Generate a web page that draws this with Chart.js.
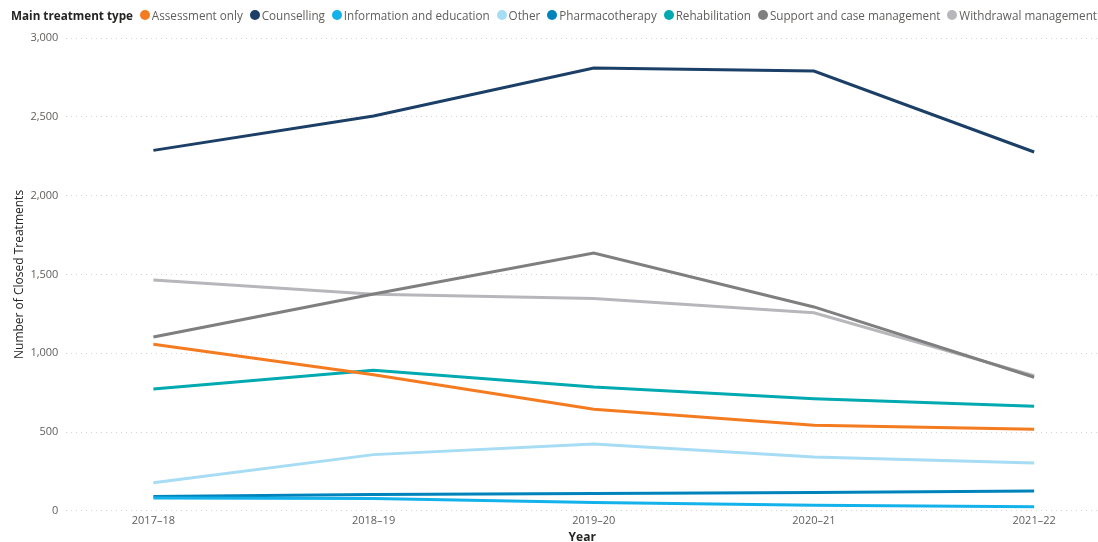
<!DOCTYPE html>
<html>
<head>
<meta charset="utf-8">
<script src="https://cdn.jsdelivr.net/npm/chart.js@4.4.0/dist/chart.umd.min.js"></script>
<style>
  html, body { margin: 0; padding: 0; background: #fff; }
  #wrap { position: relative; width: 1098px; height: 542px; overflow: hidden; }
  #legend {
    position: absolute; left: 11px; top: 7px; width: 1086px;
    display: flex; align-items: center; justify-content: space-between; white-space: nowrap;
    font-family: "Segoe UI", "Open Sans", sans-serif; font-size: 11.7px; color: #605E5C;
  }
  #legend .title { font-weight: bold; color: #252423; }
  #legend .item { display: flex; align-items: center; }
  #legend .dot { width: 10px; height: 10px; border-radius: 50%; margin-right: 2px; }
  canvas { position: absolute; left: 0; top: 0; }
</style>
</head>
<body>
<div id="wrap">
  <canvas id="chart" width="1098" height="542"></canvas>
  <div id="legend"></div>
</div>
<script>
// Datos del gráfico
const years = ['2017–18', '2018–19', '2019–20', '2020–21', '2021–22'];
const seriesNames = ['Assessment only', 'Counselling', 'Information and education', 'Other',
    'Pharmacotherapy', 'Rehabilitation', 'Support and case management', 'Withdrawal management'];
const seriesColors = ['#F47B20', '#1B3F66', '#14B2EA', '#A6DCF4', '#0083BB', '#01A9B0', '#7F7F7F', '#B7B7BB'];

const assessmentOnly = [1057, 864, 645, 543, 518];
const counselling = [2287, 2505, 2809, 2790, 2277];
const informationEducation = [82, 78, 53, 36, 27];
const other = [178, 357, 424, 342, 304];
const pharmacotherapy = [92, 104, 110, 116, 126];
const rehabilitation = [774, 892, 786, 712, 664];
const supportCase = [1103, 1376, 1636, 1294, 848];
const withdrawal = [1465, 1374, 1348, 1257, 858];

const yTicks = [0, 500, 1000, 1500, 2000, 2500, 3000];

const seriesValues = [assessmentOnly, counselling, informationEducation, other,
    pharmacotherapy, rehabilitation, supportCase, withdrawal];

// Leyenda HTML
const legend = document.getElementById('legend');
legend.innerHTML = '<span class="title">Main treatment type</span>' +
    seriesNames.map((n, i) =>
        `<span class="item"><span class="dot" style="background:${seriesColors[i]}"></span>${n}</span>`
    ).join('');

const font = "'Segoe UI', 'Open Sans', sans-serif";

const datasets = seriesNames.map((name, i) => ({
    label: name,
    data: seriesValues[i].map((v, j) => ({ x: j, y: v })),
    borderColor: seriesColors[i],
    backgroundColor: seriesColors[i],
    borderWidth: 3,
    pointRadius: 0,
    tension: 0,
    fill: false
}));

new Chart(document.getElementById('chart'), {
    type: 'line',
    data: { datasets },
    options: {
        responsive: false,
        animation: false,
        layout: { padding: { top: 38, right: 0, left: 12, bottom: -2 } },
        plugins: { legend: { display: false }, tooltip: { enabled: false } },
        scales: {
            x: {
                type: 'linear',
                min: -0.395,
                max: 4.29,
                afterBuildTicks: (scale) => { scale.ticks = years.map((_, i) => ({ value: i })); },
                ticks: {
                    callback: (v) => years[v],
                    font: { size: 11, family: font, lineHeight: 1.1 },
                    color: '#605E5C',
                    maxRotation: 0,
                    padding: 4
                },
                grid: { display: false, drawTicks: false },
                border: { display: false },
                title: {
                    display: true,
                    text: 'Year',
                    font: { size: 12, family: font, weight: 'bold', lineHeight: 1.0 },
                    color: '#252423',
                    padding: { top: 1, bottom: 0 }
                }
            },
            y: {
                min: 0,
                max: 3000,
                afterBuildTicks: (scale) => { scale.ticks = yTicks.map(v => ({ value: v })); },
                ticks: {
                    callback: (v) => v.toLocaleString('en-US'),
                    font: { size: 11, family: font },
                    color: '#605E5C',
                    padding: 8
                },
                grid: {
                    color: '#D6D4D2',
                    lineWidth: 1,
                    drawTicks: false
                },
                border: { display: false, dash: [1, 4] },
                title: {
                    display: true,
                    text: 'Number of Closed Treatments',
                    font: { size: 12, family: font },
                    color: '#252423',
                    padding: { top: 0, bottom: -4 }
                }
            }
        }
    }
});
</script>
</body>
</html>
